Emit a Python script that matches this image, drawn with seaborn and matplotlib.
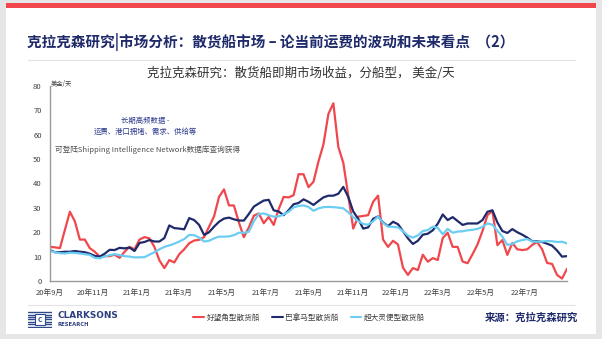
import matplotlib
matplotlib.use("Agg")
import matplotlib.pyplot as plt
import matplotlib.patches as mpatches
import matplotlib.lines as mlines
import numpy as np
import pandas as pd
import seaborn as sns

# ---------------- data (weekly, from 2020-09-01) ----------------
start_date = "2020-09-01"
n_weeks = 105

capesize = [14, 13.8, 13.5, 21, 28.4, 24.5, 17, 17, 13.5, 12,
            10, 10.2, 10.2, 10.8, 9.5, 12, 14, 13, 17, 18,
            17.5, 14, 8.5, 5.3, 8.6, 7.6, 11, 13, 15.5, 16.6,
            16.9, 18, 22.3, 26.5, 34.5, 37.6, 31, 31, 24, 18,
            22, 26.8, 27.7, 23.7, 26.3, 23, 29.5, 34.5, 34.3, 35.2,
            43.8, 43.8, 38.5, 40.7, 49, 56, 68.5, 72.9, 55, 48.5,
            35, 21.5, 26.4, 26.7, 27, 32.5, 35, 17, 14, 16.5,
            15, 5.5, 2.5, 5.3, 4.5, 10.8, 7.9, 9.4, 8.6, 17.6,
            19.8, 14, 14, 8, 7.3, 11, 15, 20.5, 27, 28.8,
            14.7, 16.8, 10.7, 15.6, 13, 12.7, 13, 14.8, 16, 13,
            7.4, 7, 2.5, 1, 5]

panamax = [12.7, 11.8, 11.8, 12, 12, 12.3, 12, 11.8, 11.2, 10.3,
           10, 11.2, 12.8, 12.7, 13.6, 13.4, 13.7, 12.3, 15.6, 16,
           16.8, 16.2, 16.2, 17.6, 22.8, 21.7, 21.5, 21.2, 25.8, 25,
           23, 18.9, 20, 22.3, 24.3, 25.6, 26, 25.3, 24.8, 24.8,
           27.5, 30.5, 31.8, 33, 33.3, 29, 28.5, 27, 29, 31.5,
           32, 33.5, 32.5, 31.2, 32.8, 34.3, 35, 35, 35.8, 38.6,
           34.5, 28.5, 25.5, 21.5, 22, 25.5, 26.5, 24, 22.5, 24.3,
           23.3, 20.5, 17.5, 15.2, 16.5, 19, 19.4, 20.8, 23.5, 27.3,
           25, 26.2, 24.6, 23, 23.6, 23.6, 23.6, 25, 28.4, 29,
           24, 20.5, 19.7, 21.3, 20, 19, 17.8, 16.3, 16.3, 16,
           15.3, 14.5, 12.5, 10, 10.2]

supramax = [12.4, 11.8, 11.4, 11.3, 11.6, 11.5, 11.3, 11, 10.7, 9.5,
            9.3, 10.1, 10.6, 11, 10.6, 10.2, 10, 9.7, 9.7, 9.8,
            10.8, 11.8, 13, 14, 14.6, 15.3, 16.2, 17.2, 18.9, 18.8,
            17.8, 16.2, 16.5, 17.5, 18.2, 18.2, 18.3, 18.8, 19.8, 19.8,
            20.2, 24.5, 27.5, 27.7, 27, 26.4, 26.5, 27.3, 28.4, 30.2,
            30.8, 31, 30.4, 28.8, 29.8, 30.3, 30.4, 30.3, 30.1, 29.8,
            28.2, 26.2, 24.6, 23.4, 23.1, 24.5, 26.5, 23.8, 22.3, 22.2,
            22, 20.5, 18.6, 17.8, 18.7, 20.5, 20.9, 22.3, 21.8, 19.2,
            21.4, 19.8, 20.3, 20.4, 20.8, 21, 21.4, 22.2, 23.6, 23.1,
            20.6, 18.2, 14.8, 15.2, 16.3, 16.8, 17.2, 16.2, 16.1, 16.2,
            16.4, 16.3, 16, 16.1, 15.4]

series_names = ["好望角型散货船", "巴拿马型散货船", "超大灵便型散货船"]
series_colors = ["#f0474d", "#1f2a6b", "#6ccdf3"]
y_ticks = [0, 10, 20, 30, 40, 50, 60, 70, 80]

title = "克拉克森研究|市场分析：散货船市场 – 论当前运费的波动和未来看点  （2）"
subtitle = "克拉克森研究：散货船即期市场收益，分船型， 美金/天"
unit_label = "美金/天"
note1 = "长期高频数据 -"
note2 = "运费、港口拥堵、需求、供给等"
note3 = "可登陆Shipping Intelligence Network数据库查询获得"
source = "来源：克拉克森研究"

dates = pd.date_range(start_date, periods=n_weeks, freq="7D")
df = pd.concat([
    pd.DataFrame({"date": dates, "value": vals, "type": name})
    for name, vals in zip(series_names, [capesize, panamax, supramax])
])

# ---------------- style ----------------
sns.set_theme(style="white")
plt.rcParams['font.family'] = ['Noto Sans CJK SC', 'DejaVu Sans']
plt.rcParams['axes.unicode_minus'] = False

W, H = 602, 339
fig = plt.figure(figsize=(W / 100, H / 100), dpi=100)
fig.patch.set_facecolor("#e6e6e6")

def fx(px):
    return px / W

def fy(py):
    return 1 - py / H

# white card and red top bar (behind the axes)
fig.patches.append(mpatches.Rectangle((fx(6), fy(334)), fx(590), (334 - 3) / H,
                                      transform=fig.transFigure, facecolor="white",
                                      edgecolor="none", zorder=-3))
fig.patches.append(mpatches.Rectangle((fx(6), fy(8)), fx(590), 5 / H,
                                      transform=fig.transFigure, facecolor="#f0474d",
                                      edgecolor="none", zorder=-2))
# separators
for yy in (60, 305):
    fig.lines.append(mlines.Line2D([fx(28), fx(575)], [fy(yy), fy(yy)],
                                   transform=fig.transFigure, color="#e3e3e3", lw=0.8,
                                   zorder=-1))

fig.text(fx(27), fy(42), title, fontsize=10.5, fontweight="bold", color="#1f2a6b",
         va="center", ha="left")
fig.text(fx(301), fy(73), subtitle, fontsize=9, color="#333333",
         va="center", ha="center", fontweight="medium")

ax = fig.add_axes([fx(50), fy(281), fx(567 - 50), (281 - 86) / H])
ax.set_facecolor("none")
sns.lineplot(data=df, x="date", y="value", hue="type", palette=series_colors,
             hue_order=series_names, linewidth=1.6, ax=ax, legend=False)

ax.set_ylim(0, 80)
ax.set_yticks(y_ticks)
ax.set_xlim(dates[0], dates[-1])
tick_dates = pd.date_range("2020-09-01", "2022-07-01", freq="2MS")
ax.set_xticks(tick_dates)
ax.set_xticklabels([f"{d.year % 100}年{d.month}月" for d in tick_dates])
ax.tick_params(axis="both", length=0, labelsize=5.5, colors="#404040", pad=6)
ax.set_xlabel("")
ax.set_ylabel("")
for s in ("top", "right"):
    ax.spines[s].set_visible(False)
for s in ("left", "bottom"):
    ax.spines[s].set_color("#9a9a9a")
    ax.spines[s].set_linewidth(1.0)

fig.text(fx(51), fy(84), unit_label, fontsize=4.5, color="#404040", va="center", ha="left")
fig.text(fx(145), fy(121), note1, fontsize=5.3, color="#2c3a8c", style="italic",
         va="center", ha="center")
fig.text(fx(145), fy(131.5), note2, fontsize=5.3, color="#2c3a8c", style="italic",
         va="center", ha="center")
fig.text(fx(55), fy(150), note3, fontsize=5.5, color="#505050", style="italic",
         va="center", ha="left")

# legend
handles = [mlines.Line2D([], [], color=c, lw=1.5) for c in series_colors]
fig.legend(handles, series_names, loc="center", bbox_to_anchor=(fx(309), fy(318)),
           ncol=3, frameon=False, fontsize=5.5, handlelength=1.4, handletextpad=0.3,
           columnspacing=1.6, labelcolor="#404040")

# logo
logo = fig.add_axes([fx(28), fy(328), fx(24), 18 / H])
logo.set_xlim(0, 24)
logo.set_ylim(0, 18)
logo.axis("off")
for i in range(7):
    yy = 1.5 + i * 2.4
    logo.plot([0, 24], [yy, yy], color="#2e4a8c", lw=1.0)
logo.add_patch(mpatches.Rectangle((7, 3.5), 10, 11, facecolor="white", edgecolor="#2e4a8c",
                                  lw=0.8, zorder=3))
logo.text(12, 9, "C", fontsize=5, color="#2e4a8c", ha="center", va="center",
          fontweight="bold", zorder=4)
fig.text(fx(57), fy(315), "CLARKSONS", fontsize=6.4, fontweight="bold", color="#2e3f7f",
         va="center", ha="left", family=["DejaVu Sans"])
fig.text(fx(57), fy(324), "RESEARCH", fontsize=3.8, fontweight="bold", color="#2e3f7f",
         va="center", ha="left", family=["DejaVu Sans"])

fig.text(fx(578), fy(318), source, fontsize=7.5, fontweight="bold", color="#1f2a6b",
         va="center", ha="right")

fig.savefig("out.png", dpi=100, facecolor=fig.get_facecolor())
